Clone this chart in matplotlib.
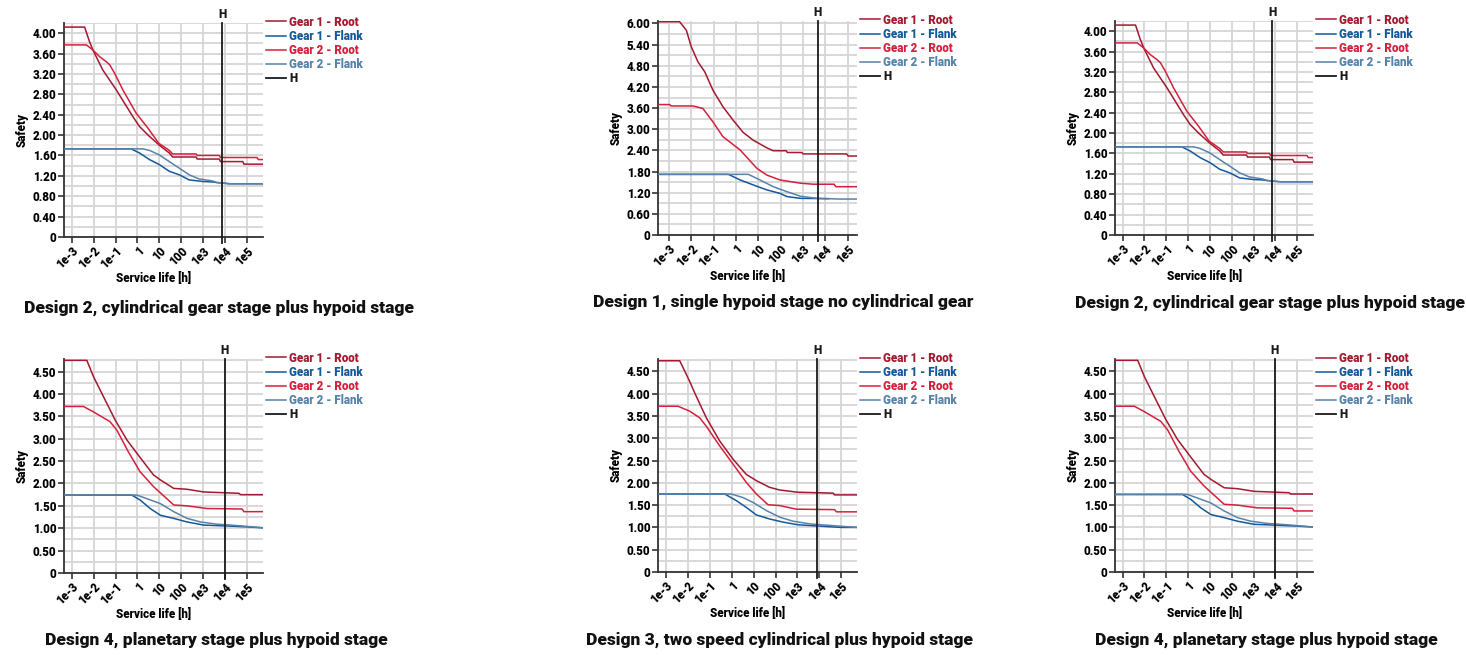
import matplotlib
matplotlib.use("Agg")
import matplotlib.pyplot as plt
from matplotlib import font_manager as fm
from matplotlib.ticker import FixedLocator, FuncFormatter, MultipleLocator, NullLocator

# ---------------- data ----------------
SERIES_NAMES = ["Gear 1 - Root", "Gear 1 - Flank", "Gear 2 - Root", "Gear 2 - Flank"]
SERIES_COLORS = ["#a3192f", "#14589c", "#d4203c", "#5682ab"]
H_LABEL = "H"
X_TICKS = [1e-3, 1e-2, 1e-1, 1, 10, 100, 1e3, 1e4, 1e5]
X_TICK_LABELS = ["1e-3", "1e-2", "1e-1", "1", "10", "100", "1e3", "1e4", "1e5"]

# Design 2 (service life [h], safety)
D2_G1_ROOT_H = [4.5e-4, 3.9e-3, 6.3e-3, 9.3e-3, 0.026, 0.107, 0.62, 1.23, 3.2, 10, 28, 40, 470, 525, 5370, 6030, 63000, 70800, 5.2e5]
D2_G1_ROOT_S = [4.12, 4.12, 3.85, 3.67, 3.28, 2.89, 2.36, 2.17, 1.99, 1.80, 1.65, 1.57, 1.57, 1.53, 1.53, 1.48, 1.48, 1.43, 1.43]
D2_G2_ROOT_H = [4.5e-4, 4.7e-3, 9.3e-3, 0.0186, 0.038, 0.054, 0.089, 0.214, 0.87, 2.95, 9.3, 28, 40, 470, 525, 5370, 6030, 2.8e5, 3.2e5, 5.2e5]
D2_G2_ROOT_S = [3.77, 3.77, 3.67, 3.54, 3.44, 3.38, 3.22, 2.89, 2.43, 2.14, 1.84, 1.70, 1.63, 1.63, 1.60, 1.60, 1.56, 1.56, 1.52, 1.52]
D2_G1_FLANK_H = [4.5e-4, 0.51, 1.23, 3.5, 10, 28, 81, 229, 930, 2630, 3980, 15800, 5.2e5]
D2_G1_FLANK_S = [1.73, 1.73, 1.65, 1.52, 1.42, 1.29, 1.22, 1.12, 1.09, 1.08, 1.07, 1.045, 1.045]
D2_G2_FLANK_H = [4.5e-4, 1.74, 3.55, 10, 28, 81, 229, 631, 2630, 3980, 15800, 5.2e5]
D2_G2_FLANK_S = [1.73, 1.73, 1.70, 1.61, 1.48, 1.35, 1.22, 1.14, 1.10, 1.07, 1.045, 1.045]
D2_H_LINE = 7200

# Design 1
D1_G1_ROOT_H = [3.24e-4, 3.0e-3, 6.0e-3, 0.01, 0.02, 0.04, 0.093, 0.26, 0.74, 2.1, 5.9, 23, 46, 180, 200, 890, 1000, 89000, 107000, 2.63e5]
D1_G1_ROOT_S = [6.05, 6.05, 5.81, 5.34, 4.91, 4.63, 4.11, 3.64, 3.26, 2.91, 2.69, 2.48, 2.39, 2.39, 2.34, 2.34, 2.30, 2.30, 2.24, 2.24]
D1_G2_ROOT_H = [3.24e-4, 1.07e-3, 1.26e-3, 0.012, 0.033, 0.093, 0.26, 1.55, 8.7, 24, 95, 760, 2950, 25100, 29500, 2.63e5]
D1_G2_ROOT_S = [3.70, 3.70, 3.66, 3.66, 3.59, 3.21, 2.79, 2.41, 1.89, 1.70, 1.56, 1.47, 1.44, 1.44, 1.37, 1.37]
D1_G1_FLANK_H = [3.24e-4, 0.46, 1.55, 6.0, 24, 95, 190, 760, 14100]
D1_G1_FLANK_S = [1.72, 1.72, 1.56, 1.42, 1.28, 1.18, 1.09, 1.04, 1.03]
D1_G2_FLANK_H = [3.24e-4, 3.6, 12, 47, 190, 760, 4270, 46800, 2.63e5]
D1_G2_FLANK_S = [1.72, 1.72, 1.56, 1.37, 1.23, 1.10, 1.04, 1.02, 1.02]
D1_H_LINE = 4500

# Design 4
D4_G1_ROOT_H = [4.5e-4, 4.9e-3, 9.8e-3, 0.028, 0.0955, 0.331, 1.1, 5.37, 11, 44.7, 182, 1047, 41700, 50100, 5.25e5]
D4_G1_ROOT_S = [4.75, 4.75, 4.39, 3.94, 3.42, 2.97, 2.63, 2.19, 2.08, 1.89, 1.87, 1.81, 1.78, 1.75, 1.75]
D4_G2_ROOT_H = [4.5e-4, 3.4e-3, 9.8e-3, 0.056, 0.115, 0.389, 1.32, 5.37, 44.7, 182, 1479, 58900, 70800, 5.25e5]
D4_G2_ROOT_S = [3.72, 3.72, 3.60, 3.38, 3.19, 2.70, 2.26, 1.93, 1.52, 1.50, 1.44, 1.43, 1.37, 1.37]
D4_G1_FLANK_H = [4.5e-4, 0.55, 1.32, 3.8, 11, 44.7, 182, 1047, 12300, 1e5, 5.25e5]
D4_G1_FLANK_S = [1.74, 1.74, 1.63, 1.44, 1.29, 1.22, 1.14, 1.07, 1.05, 1.03, 1.01]
D4_G2_FLANK_H = [4.5e-4, 0.933, 2.69, 11, 44.7, 182, 741, 4270, 34700, 5.25e5]
D4_G2_FLANK_S = [1.74, 1.74, 1.66, 1.55, 1.37, 1.22, 1.14, 1.09, 1.06, 1.01]
D4_H_LINE = 9500

# Design 3
D3_G1_ROOT_H = [4.5e-4, 4.37e-3, 0.0123, 0.0209, 0.0708, 0.288, 1.17, 4.68, 13.5, 53.7, 155, 1047, 41700, 49000, 5.13e5]
D3_G1_ROOT_S = [4.74, 4.74, 4.28, 4.02, 3.46, 2.94, 2.53, 2.19, 2.05, 1.90, 1.84, 1.79, 1.77, 1.73, 1.73]
D3_G2_ROOT_H = [4.5e-4, 3.63e-3, 0.0123, 0.0355, 0.0708, 0.288, 1.17, 4.68, 13.5, 45.7, 155, 891, 49000, 58900, 5.13e5]
D3_G2_ROOT_S = [3.72, 3.72, 3.61, 3.46, 3.27, 2.83, 2.42, 2.01, 1.75, 1.51, 1.49, 1.41, 1.40, 1.35, 1.35]
D3_G1_FLANK_H = [4.5e-4, 0.49, 1.66, 4.68, 13.5, 53.7, 219, 1047, 1e5, 5.13e5]
D3_G1_FLANK_S = [1.75, 1.75, 1.60, 1.45, 1.28, 1.19, 1.12, 1.06, 1.00, 1.00]
D3_G2_FLANK_H = [4.5e-4, 0.977, 3.31, 9.55, 38, 155, 631, 3630, 41700, 5.13e5]
D3_G2_FLANK_S = [1.75, 1.75, 1.67, 1.56, 1.38, 1.23, 1.14, 1.08, 1.04, 1.00]
D3_H_LINE = 7800

TITLES = [
    "Design 2, cylindrical gear stage plus hypoid stage",
    "Design 1, single hypoid stage no cylindrical gear",
    "Design 2, cylindrical gear stage plus hypoid stage",
    "Design 4, planetary stage plus hypoid stage",
    "Design 3, two speed cylindrical plus hypoid stage",
    "Design 4, planetary stage plus hypoid stage",
]

DESIGNS = {
    "D2": dict(series=[(D2_G1_ROOT_H, D2_G1_ROOT_S), (D2_G1_FLANK_H, D2_G1_FLANK_S),
                       (D2_G2_ROOT_H, D2_G2_ROOT_S), (D2_G2_FLANK_H, D2_G2_FLANK_S)],
               hline=D2_H_LINE, xlim=(4.47e-4, 5.25e5), ymax=4.2, major=0.4, minor=0.2, ytop=4.0),
    "D1": dict(series=[(D1_G1_ROOT_H, D1_G1_ROOT_S), (D1_G1_FLANK_H, D1_G1_FLANK_S),
                       (D1_G2_ROOT_H, D1_G2_ROOT_S), (D1_G2_FLANK_H, D1_G2_FLANK_S)],
               hline=D1_H_LINE, xlim=(3.24e-4, 2.63e5), ymax=6.07, major=0.6, minor=0.3, ytop=6.0),
    "D4": dict(series=[(D4_G1_ROOT_H, D4_G1_ROOT_S), (D4_G1_FLANK_H, D4_G1_FLANK_S),
                       (D4_G2_ROOT_H, D4_G2_ROOT_S), (D4_G2_FLANK_H, D4_G2_FLANK_S)],
               hline=D4_H_LINE, xlim=(4.47e-4, 5.25e5), ymax=4.78, major=0.5, minor=0.25, ytop=4.5),
    "D3": dict(series=[(D3_G1_ROOT_H, D3_G1_ROOT_S), (D3_G1_FLANK_H, D3_G1_FLANK_S),
                       (D3_G2_ROOT_H, D3_G2_ROOT_S), (D3_G2_FLANK_H, D3_G2_FLANK_S)],
               hline=D3_H_LINE, xlim=(4.47e-4, 5.13e5), ymax=4.78, major=0.5, minor=0.25, ytop=4.5),
}

# panel layout in pixels: design, (left, top, right, bottom), title centre x, title centre y
PANELS = [
    ("D2", (64, 23, 263, 237), 219, 308),
    ("D1", (658, 21, 857, 235), 783, 302),
    ("D2", (1115, 21, 1313, 235), 1270, 303),
    ("D4", (64, 359, 263, 573), 216, 640),
    ("D3", (658, 359, 857, 572), 780, 640),
    ("D4", (1115, 359, 1313, 572), 1266, 640),
]

# ---------------- style ----------------
names = {f.name for f in fm.fontManager.ttflist}
FONT = "Roboto" if "Roboto" in names else "DejaVu Sans"
plt.rcParams["font.family"] = [FONT, "DejaVu Sans"]
plt.rcParams["font.weight"] = "bold"

W, H = 1466, 655
fig = plt.figure(figsize=(W / 100, H / 100), dpi=100)

GRID_C = "#d6d6d6"
SPINE_C = "#333333"
TICK_FS = 8.3
LAB_FS = 8.3

for (key, (l, t, r, b), tx, ty), title in zip(PANELS, TITLES):
    d = DESIGNS[key]
    ax = fig.add_axes([l / W, 1 - b / H, (r - l) / W, (b - t) / H])
    ax.set_xscale("log")
    ax.set_xlim(*d["xlim"])
    ax.set_ylim(0, d["ymax"])

    for (xs, ys), name, col in zip(d["series"], SERIES_NAMES, SERIES_COLORS):
        ax.plot(xs, ys, color=col, lw=1.1, label=name, zorder=3)

    ax.axvline(d["hline"], ymin=-0.03, ymax=1.0, color="#1a1a1a", lw=1.3, label=H_LABEL,
               clip_on=False, zorder=4)
    ax.text(d["hline"], d["ymax"] * 1.01, H_LABEL, ha="center", va="bottom",
            fontsize=8.5, fontweight="heavy", color="#1a1a1a")

    # x axis
    ax.xaxis.set_major_locator(FixedLocator(X_TICKS))
    ax.xaxis.set_minor_locator(NullLocator())
    ax.set_xticklabels(X_TICK_LABELS, rotation=45, ha="right", va="top",
                       rotation_mode="anchor", fontsize=TICK_FS, fontweight="heavy")
    # y axis
    n = int(round(d["ytop"] / d["major"]))
    ax.yaxis.set_major_locator(FixedLocator([i * d["major"] for i in range(n + 1)]))
    ax.yaxis.set_minor_locator(MultipleLocator(d["minor"]))
    ax.yaxis.set_major_formatter(FuncFormatter(lambda v, p: "0" if abs(v) < 1e-9 else f"{v:.2f}"))
    for lab in ax.get_yticklabels():
        lab.set_fontsize(TICK_FS)
        lab.set_fontweight("heavy")

    ax.tick_params(axis="both", which="major", length=4, width=1.2, color=SPINE_C, pad=1.5)
    ax.tick_params(axis="both", which="minor", length=0)
    ax.grid(True, which="both", axis="y", color=GRID_C, lw=1.3, zorder=0)
    ax.grid(True, which="major", axis="x", color=GRID_C, lw=1.3, zorder=0)
    ax.set_axisbelow(True)

    for s in ("top", "right"):
        ax.spines[s].set_visible(False)
    for s in ("left", "bottom"):
        ax.spines[s].set_color(SPINE_C)
        ax.spines[s].set_linewidth(1.3)

    ax.set_ylabel("Safety", fontsize=LAB_FS, fontweight="heavy", labelpad=3)
    ax.set_xlabel("Service life [h]", fontsize=LAB_FS, fontweight="heavy", labelpad=1)
    ax.xaxis.set_label_coords(0.45, -0.165)

    ax.legend(loc="upper left", bbox_to_anchor=(1.015, 1.035), frameon=False,
              handlelength=1.7, handletextpad=0.3, labelspacing=0.1,
              borderaxespad=0, borderpad=0, labelcolor="linecolor",
              prop={"weight": "heavy", "size": 8.3})

    fig.text(tx / W, 1 - ty / H, title, ha="center", va="center", fontsize=12.5,
             fontweight="heavy", color="#111111")

fig.savefig("out.png", dpi=100)
